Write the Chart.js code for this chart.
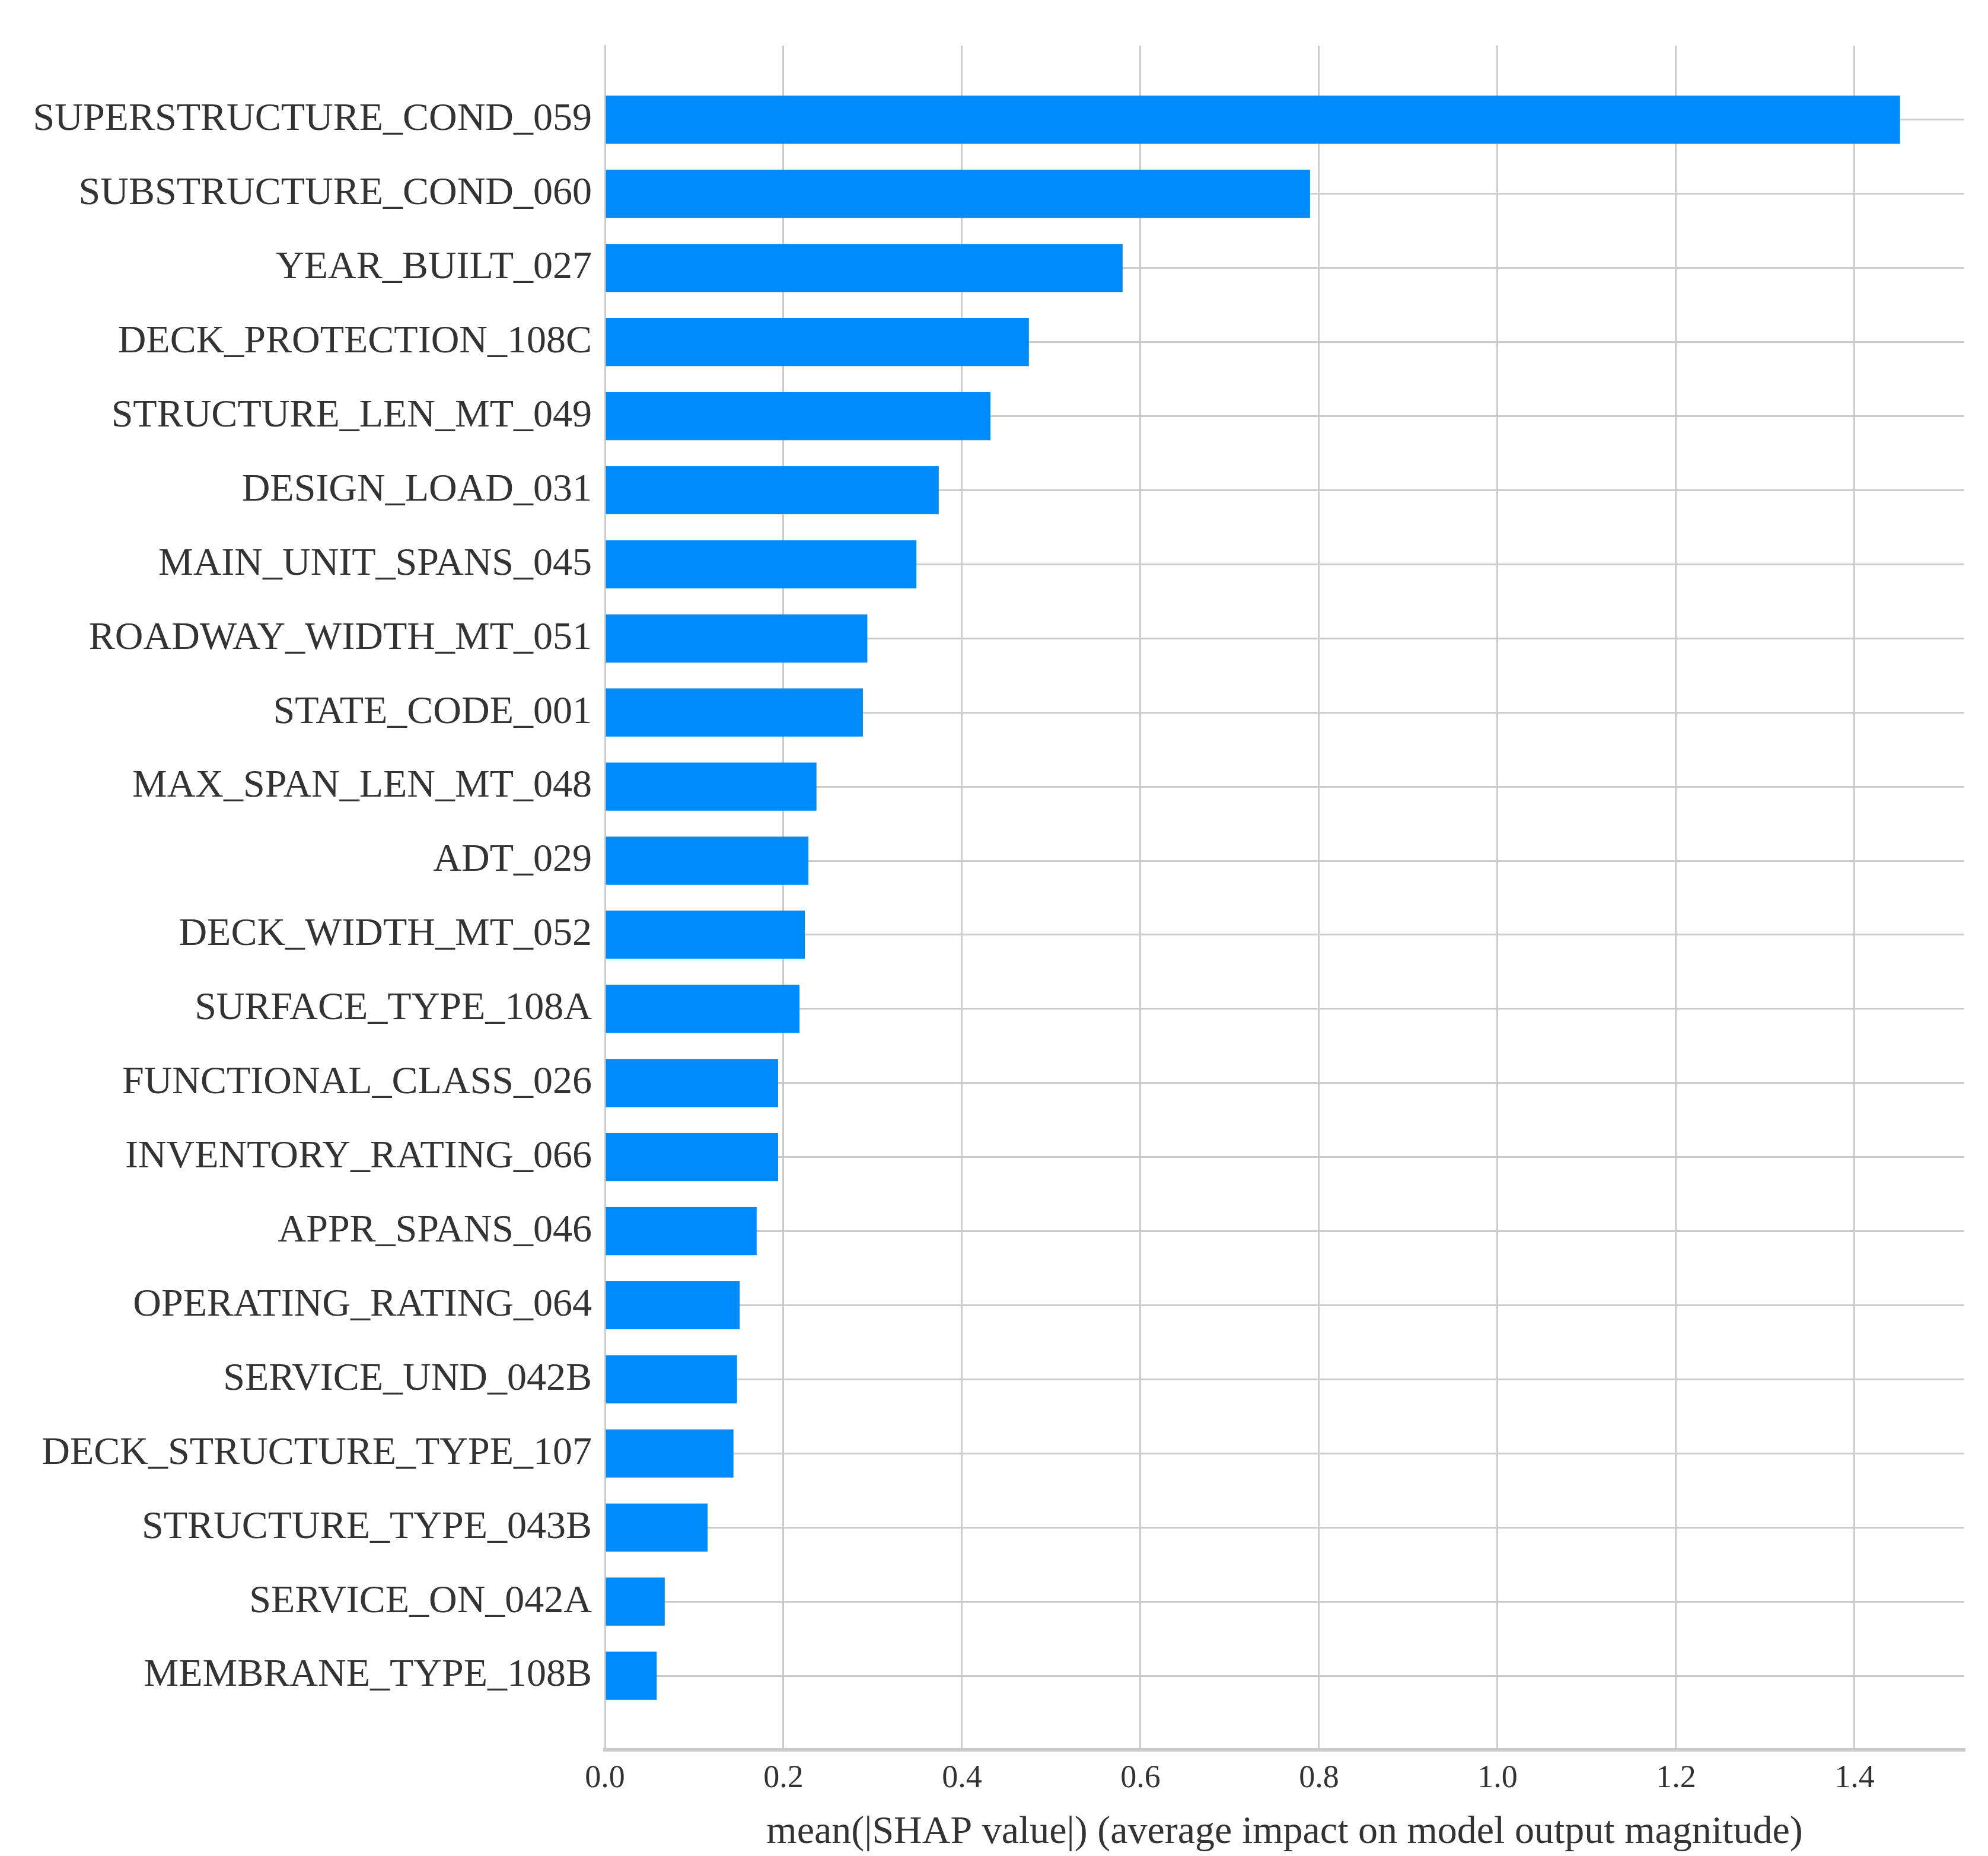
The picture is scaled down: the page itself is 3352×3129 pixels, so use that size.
<!DOCTYPE html>
<html>
<head>
<meta charset="utf-8">
<script src="https://cdn.jsdelivr.net/npm/chart.js@4"></script>
<style>
  html, body { margin: 0; padding: 0; background: #fff; }
</style>
</head>
<body>
<canvas id="shapChart" width="3352" height="3129"></canvas>
<script>
// Features, ordered from most to least important
const features = [
    'SUPERSTRUCTURE_COND_059', 'SUBSTRUCTURE_COND_060', 'YEAR_BUILT_027',
    'DECK_PROTECTION_108C', 'STRUCTURE_LEN_MT_049', 'DESIGN_LOAD_031',
    'MAIN_UNIT_SPANS_045', 'ROADWAY_WIDTH_MT_051', 'STATE_CODE_001',
    'MAX_SPAN_LEN_MT_048', 'ADT_029', 'DECK_WIDTH_MT_052', 'SURFACE_TYPE_108A',
    'FUNCTIONAL_CLASS_026', 'INVENTORY_RATING_066', 'APPR_SPANS_046',
    'OPERATING_RATING_064', 'SERVICE_UND_042B', 'DECK_STRUCTURE_TYPE_107',
    'STRUCTURE_TYPE_043B', 'SERVICE_ON_042A', 'MEMBRANE_TYPE_108B'
];

// mean(|SHAP value|) per feature
const meanShap = [
    1.451, 0.790, 0.580, 0.475, 0.432, 0.374, 0.349, 0.294, 0.289, 0.237, 0.228,
    0.224, 0.218, 0.194, 0.194, 0.170, 0.151, 0.148, 0.144, 0.115, 0.067, 0.058
];

const xTicks = [0.0, 0.2, 0.4, 0.6, 0.8, 1.0, 1.2, 1.4];
const xTitle = 'mean(|SHAP value|) (average impact on model output magnitude)';

const puntos = meanShap.map((v, i) => ({ x: v, y: i }));

new Chart(document.getElementById('shapChart'), {
    type: 'bar',
    data: {
        datasets: [{
            data: puntos,
            backgroundColor: '#008bfb',
            borderWidth: 0,
            barPercentage: 0.65,
            categoryPercentage: 1.0
        }]
    },
    options: {
        indexAxis: 'y',
        responsive: false,
        animation: false,
        layout: { padding: { left: 0, right: 40, top: 77, bottom: 0 } },
        plugins: { legend: { display: false }, tooltip: { enabled: false } },
        scales: {
            x: {
                type: 'linear',
                min: 0,
                max: 1.523,
                afterBuildTicks: s => { s.ticks = xTicks.map(v => ({ value: v })); },
                afterFit: s => { s.height = 179; },
                grid: { color: '#cccccc', lineWidth: 3, drawTicks: false },
                border: { color: '#cccccc', width: 6 },
                ticks: {
                    padding: 16,
                    color: '#333333',
                    font: { family: 'Liberation Serif', size: 54 },
                    callback: v => v.toFixed(1)
                },
                title: {
                    display: true,
                    text: xTitle,
                    color: '#333333',
                    padding: { top: 10, bottom: 0 },
                    font: { family: 'Liberation Serif', size: 66 }
                }
            },
            y: {
                type: 'linear',
                reverse: true,
                min: -1,
                max: 22,
                offset: false,
                afterBuildTicks: s => { s.ticks = features.map((f, i) => ({ value: i })); },
                afterFit: s => { s.width = 1020; },
                grid: { color: '#cccccc', lineWidth: 3, drawTicks: false, offset: false },
                border: { color: '#cccccc', width: 3 },
                ticks: {
                    padding: 22,
                    color: '#333333',
                    font: { family: 'Liberation Serif', size: 66 },
                    callback: v => features[v] || ''
                }
            }
        }
    }
});
</script>
</body>
</html>
